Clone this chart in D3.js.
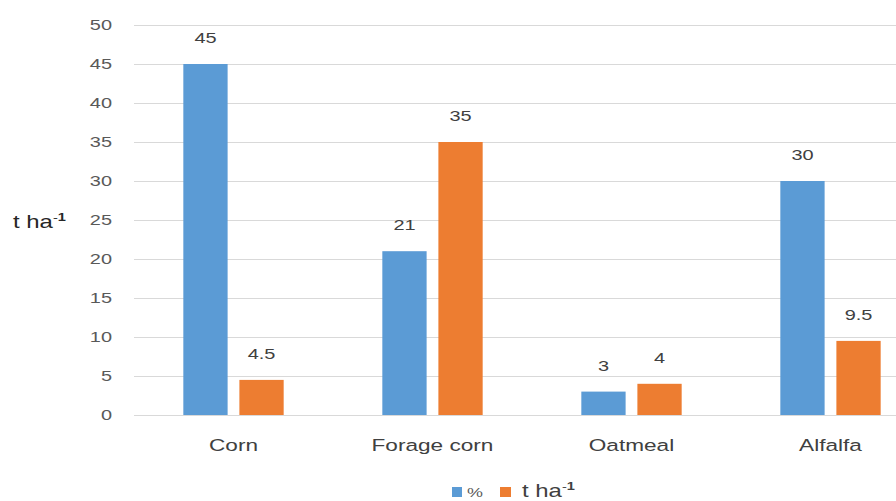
<!DOCTYPE html>
<html>
<head>
<meta charset="utf-8">
<script src="https://cdn.jsdelivr.net/npm/d3@7"></script>
<style>
  html, body { margin: 0; padding: 0; background: #fff; }
  svg { display: block; font-family: "Liberation Sans", Arial, sans-serif; }
</style>
</head>
<body>
<svg id="chart" width="896" height="501"></svg>
<script>
// Crops and their two measured series
const categories = ["Corn", "Forage corn", "Oatmeal", "Alfalfa"];
const percentValues = [45, 21, 3, 30];
const yieldValues = [4.5, 35, 4, 9.5];
const yTicks = [0, 5, 10, 15, 20, 25, 30, 35, 40, 45, 50];
const seriesNames = ["%", "t ha"];
const seriesColors = ["#5B9BD5", "#ED7D31"];

const series = [
  { key: "pct", name: seriesNames[0], color: seriesColors[0], values: percentValues },
  { key: "tha", name: seriesNames[1], color: seriesColors[1], values: yieldValues }
];

// Text is drawn horizontally widened, like the rest of the figure
const SX = 1.33;

const svg = d3.select("#chart");
const plot = { left: 134, right: 930, top: 25, bottom: 415 };

const x = d3.scaleBand().domain(categories).range([plot.left, plot.right]).paddingInner(0).paddingOuter(0);
const xInner = d3.scaleBand().domain(series.map(s => s.key)).range([0, x.bandwidth()]).paddingInner(0.21).paddingOuter(0.88);
const y = d3.scaleLinear().domain([0, 50]).range([plot.bottom, plot.top]);

// Horizontal gridlines
svg.append("g")
  .selectAll("line")
  .data(yTicks)
  .join("line")
  .attr("x1", plot.left).attr("x2", plot.right)
  .attr("y1", d => y(d) + 0.5).attr("y2", d => y(d) + 0.5)
  .attr("stroke", "#d9d9d9").attr("stroke-width", 1);

// Y tick labels
const yAxis = d3.axisLeft(y).tickValues(yTicks).tickSize(0).tickPadding(0);
const gy = svg.append("g").attr("transform", `translate(${plot.left - 22},0)`).call(yAxis);
gy.select(".domain").remove();
gy.selectAll("text")
  .attr("font-size", 15).attr("fill", "#595959")
  .attr("font-family", "'Liberation Sans', Arial, sans-serif")
  .attr("transform", `scale(${SX},1)`);

// Y axis title: t ha⁻¹
const yTitle = svg.append("text")
  .attr("transform", `translate(13,228) scale(${SX},1)`)
  .attr("font-size", 18).attr("fill", "#262626");
yTitle.append("tspan").text("t ha");
yTitle.append("tspan").attr("dy", -7).attr("font-size", 11).text("-");
yTitle.append("tspan").attr("font-size", 11).attr("font-weight", "bold").text("1");

// Bars
const groups = svg.append("g")
  .selectAll("g")
  .data(categories)
  .join("g")
  .attr("transform", d => `translate(${x(d)},0)`);

groups.selectAll("rect")
  .data((c, i) => series.map(s => ({ key: s.key, color: s.color, value: s.values[i] })))
  .join("rect")
  .attr("x", d => xInner(d.key))
  .attr("width", xInner.bandwidth())
  .attr("y", d => y(d.value))
  .attr("height", d => y(0) - y(d.value))
  .attr("fill", d => d.color);

// Value labels above bars
groups.selectAll("text.val")
  .data((c, i) => series.map(s => ({ key: s.key, value: s.values[i] })))
  .join("text")
  .attr("class", "val")
  .attr("transform", d => `translate(${xInner(d.key) + xInner.bandwidth() / 2},${y(d.value) - 21}) scale(${SX},1)`)
  .attr("text-anchor", "middle")
  .attr("font-size", 15).attr("fill", "#404040")
  .text(d => d3.format("")(d.value));

// Category labels
const xAxis = d3.axisBottom(x).tickSize(0).tickPadding(0);
const gx = svg.append("g").attr("transform", `translate(0,${plot.bottom + 24})`).call(xAxis);
gx.select(".domain").remove();
gx.selectAll("text")
  .attr("font-size", 17).attr("fill", "#404040")
  .attr("font-family", "'Liberation Sans', Arial, sans-serif")
  .attr("transform", `scale(${SX},1)`);

// Legend
const legend = svg.append("g").attr("transform", "translate(452,497)");
legend.append("rect").attr("x", 0).attr("y", -10).attr("width", 10).attr("height", 10).attr("fill", series[0].color);
legend.append("text").attr("transform", `translate(15,0) scale(${SX},1)`)
  .attr("font-size", 13.5).attr("fill", "#595959").text(series[0].name);
legend.append("rect").attr("x", 48).attr("y", -10).attr("width", 11).attr("height", 10).attr("fill", series[1].color);
const lt = legend.append("text").attr("transform", `translate(70,0) scale(${SX},1)`)
  .attr("font-size", 18).attr("fill", "#404040");
lt.append("tspan").text(series[1].name);
lt.append("tspan").attr("dy", -7).attr("font-size", 11).text("-");
lt.append("tspan").attr("font-size", 11).attr("font-weight", "bold").text("1");
</script>
</body>
</html>
